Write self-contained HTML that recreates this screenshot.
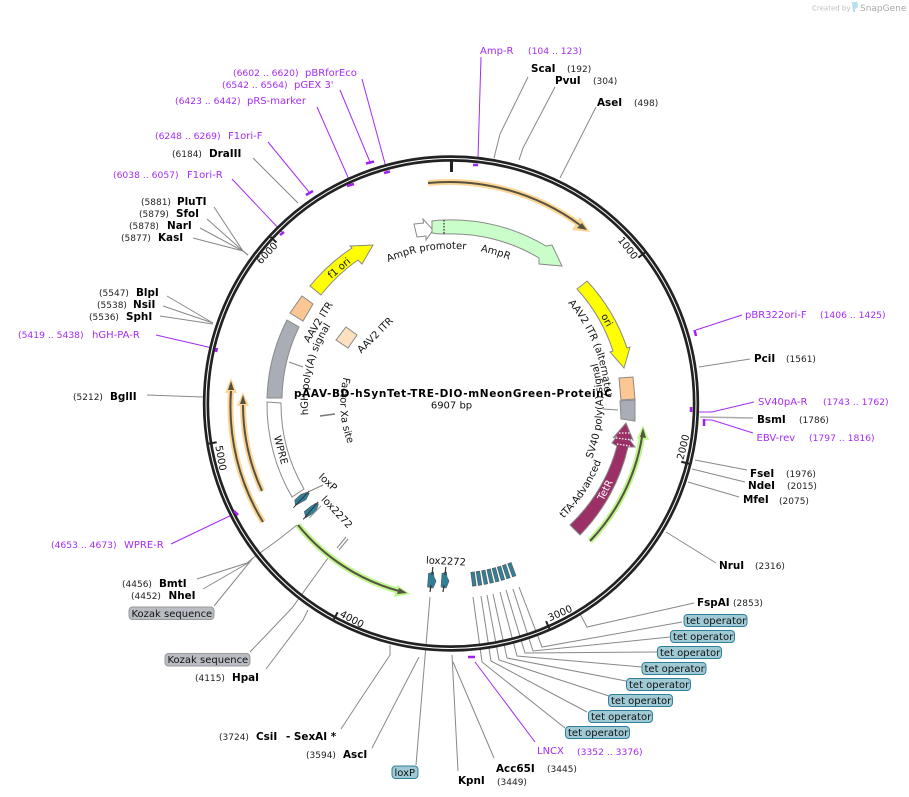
<!DOCTYPE html>
<html><head><meta charset="utf-8"><title>pAAV-BD-hSynTet-TRE-DIO-mNeonGreen-ProteinC</title>
<style>
html,body{margin:0;padding:0;background:#fff;width:909px;height:797px;overflow:hidden}
svg{display:block}
text{font-family:"DejaVu Sans",sans-serif;font-size:10px;fill:#111}
.b{font-weight:bold;font-size:10.4px;fill:#000}
.c{font-size:9px;fill:#222}
.p{fill:#a52cf2;font-size:10px}
.pc{fill:#a52cf2;font-size:9.2px}
.g{stroke:#888;stroke-width:1;fill:none}
.v{stroke:#a52cf2;stroke-width:1;fill:none}
.t{stroke:#a020f0;stroke-width:2.5;fill:none}
.m{text-anchor:middle}
.f{stroke:#8a8a8a;stroke-width:1}
.op{fill:#a0c9d6;stroke:#2f8199;stroke-width:1}
.ko{fill:#b9bcc3;stroke:#999;stroke-width:1}
.tl{fill:#31809a;stroke:#555;stroke-width:.6}
</style></head><body>
<svg width="909" height="797" viewBox="0 0 909 797" xmlns="http://www.w3.org/2000/svg">
<defs>
<path id="pAP" d="M387,262.6 A155 155 0 0 1 585,326"/>
<path id="pAR" d="M480,251.2 A155 155 0 0 1 585,326"/>
<path id="pAI" d="M568,303 A154 154 0 0 1 590,469"/>
<path id="pSV" d="M592,459 A152 152 0 0 0 540,280"/>
<path id="pTT" d="M563.6,518.5 A161 161 0 0 0 599,340.5"/>
<path id="pHG" d="M308.3,415 A143 143 0 0 1 391,273.5"/>
<path id="pFX" d="M343.5,377 A111 111 0 0 0 361,468"/>
</defs>

<!-- created by -->
<text x="812" y="10.5" style="font-size:7px;fill:#bdbdbd">Created by</text>
<path d="M852,2 h5 q2,3 0,6 l-2,1 v3 h-2 z" fill="#b7dff0"/>
<text x="860" y="11" style="font-size:9px;fill:#a8a8a8">SnapGene</text>

<!-- grey connectors -->
<g class="g">
<polyline points="528,77 500,134 494,158"/>
<polyline points="555,87 523,148 519,160"/>
<line x1="596" y1="107" x2="560" y2="178"/>
<polyline points="253,158 298,203"/>
<polyline points="214,207 243,251 248,255"/>
<polyline points="207,219 243,251 248,255"/>
<polyline points="200,228 243,251 248,255"/>
<polyline points="193,238 243,251 248,255"/>
<polyline points="167,296 213,323"/>
<polyline points="163,306 213,323"/>
<polyline points="160,316 213,324"/>
<line x1="147" y1="395" x2="203" y2="397"/>
<polyline points="197,579 247,563 253,558"/>
<polyline points="203,589 248,563 253,558"/>
<polyline points="214,606 253,558 278,540 297,525"/>
<polyline points="250,652 292,608 328,558"/>
<polyline points="266,669 303,620 308,610"/>
<polyline points="341,729 360,700 390,655 390,645"/>
<line x1="372" y1="748" x2="419" y2="657"/>
<line x1="416" y1="765" x2="430" y2="597"/>
<line x1="458" y1="771" x2="452" y2="655"/>
<line x1="494" y1="758" x2="453" y2="662"/>
<polyline points="565,728 482,662 473,597"/>
<polyline points="587,712 491,661 481,596"/>
<polyline points="609,696 499,660 487,595"/>
<polyline points="626,681 507,658 493,594"/>
<polyline points="642,667 517,656 500,592"/>
<polyline points="657,652 525,653 506,590"/>
<polyline points="670,637 533,651 513,589"/>
<polyline points="682,622 542,647 519,587"/>
<polyline points="694,603 587,627 578,610"/>
<line x1="666" y1="532" x2="716" y2="563"/>
<line x1="750" y1="359" x2="699" y2="367"/>
<line x1="753" y1="418" x2="700" y2="417" style="stroke-width:1.6;stroke:#aaa"/>
<line x1="747" y1="470" x2="695" y2="460"/>
<line x1="745" y1="482" x2="692" y2="469"/>
<line x1="739" y1="497" x2="688" y2="482"/>
<line x1="289" y1="362" x2="303" y2="367"/>
<line x1="603" y1="409" x2="618" y2="410"/>
<line x1="320" y1="416" x2="335" y2="414" style="stroke:#777;stroke-width:1.5"/>
<line x1="308" y1="492" x2="323" y2="485"/>
<line x1="337" y1="548" x2="346" y2="537"/>
<line x1="339" y1="550" x2="348" y2="539"/>
</g>

<!-- purple connectors -->
<g class="v">
<polyline points="481,57 478,157"/>
<line x1="362" y1="79" x2="387" y2="171"/>
<line x1="340" y1="90" x2="370" y2="162"/>
<line x1="317" y1="107" x2="351" y2="184"/>
<line x1="268" y1="142" x2="309" y2="192"/>
<line x1="232" y1="179" x2="282" y2="232"/>
<polyline points="156,335 208,347 217,350"/>
<line x1="171" y1="544" x2="236" y2="513"/>
<line x1="535" y1="742" x2="475" y2="662"/>
<line x1="742" y1="315" x2="696" y2="330"/>
<polyline points="754,402 712,412 695,412"/>
<polyline points="753,433 712,420 704,420"/>
</g>

<!-- ring -->
<circle cx="451" cy="403.5" r="245" fill="none" stroke="#222" stroke-width="6.4"/>
<circle cx="451" cy="403.5" r="245" fill="none" stroke="#fff" stroke-width="1"/>

<!-- purple ticks -->
<g class="t">
<line x1="473" y1="165" x2="478" y2="165"/>
<line x1="366" y1="163.5" x2="374" y2="161.5"/>
<line x1="384" y1="173" x2="390" y2="171.5"/>
<line x1="347" y1="186" x2="354" y2="184"/>
<line x1="306" y1="195" x2="313" y2="191"/>
<line x1="280" y1="235" x2="284" y2="232"/>
<line x1="217" y1="348" x2="216" y2="352"/>
<line x1="234" y1="511" x2="238" y2="515"/>
<line x1="468" y1="657" x2="475" y2="657"/>
<line x1="694.5" y1="330" x2="696" y2="336"/>
<line x1="691" y1="407" x2="691" y2="412"/>
<line x1="704" y1="419" x2="704" y2="426"/>
</g>

<!-- black ticks -->
<g stroke="#222" stroke-width="2" fill="none">
<line x1="451.5" y1="160" x2="451.5" y2="172" stroke-width="3"/>
<line x1="451" y1="166" x2="451" y2="158" transform="rotate(52.1 451 403.5)"/>
<line x1="451" y1="166" x2="451" y2="158" transform="rotate(104.2 451 403.5)"/>
<line x1="451" y1="166" x2="451" y2="158" transform="rotate(156.4 451 403.5)"/>
<line x1="451" y1="166" x2="451" y2="158" transform="rotate(208.5 451 403.5)"/>
<line x1="451" y1="166" x2="451" y2="158" transform="rotate(260.6 451 403.5)"/>
<line x1="451" y1="166" x2="451" y2="158" transform="rotate(312.7 451 403.5)"/>
</g>
<text class="m" transform="translate(628,248) rotate(52)" dy="3.5">1000</text>
<text class="m" transform="translate(683,447) rotate(-76)" dy="3.5">2000</text>
<text class="m" transform="translate(560,613) rotate(-24)" dy="3.5">3000</text>
<text class="m" transform="translate(352,619) rotate(28)" dy="3.5">4000</text>
<text class="m" transform="translate(221,458) rotate(80)" dy="3.5">5000</text>
<text class="m" transform="translate(267,253) rotate(-47)" dy="3.5">6000</text>

<!-- primers arcs -->
<g fill="none">
<path d="M428,183 A221 221 0 0 1 580,225" stroke="#fcd596" stroke-width="6"/>
<path d="M263,522 A221 221 0 0 1 231,391" stroke="#fcd596" stroke-width="6"/>
<path d="M262,491 A208 208 0 0 1 243,405" stroke="#fcd596" stroke-width="6"/>
<path d="M298,525 A195 195 0 0 0 399,591" stroke="#bff58e" stroke-width="6"/>
<path d="M590,541 A195 195 0 0 0 642,437" stroke="#bff58e" stroke-width="6"/>
</g>
<g fill="#fcd596">
<polygon points="590,232 580,217 572,230"/>
<polygon points="231,378 225,393 237,393"/>
<polygon points="243,392 237,406 249,406"/>
</g>
<g fill="#bff58e">
<polygon points="410,594 397,585 394,597"/>
<polygon points="643,425 637,439 649,440"/>
</g>
<g fill="none" stroke="#55523f" stroke-width="2">
<path d="M428,183 A221 221 0 0 1 580,225"/>
<path d="M263,522 A221 221 0 0 1 231,391"/>
<path d="M262,491 A208 208 0 0 1 243,405"/>
<path d="M298,525 A195 195 0 0 0 399,591"/>
<path d="M590,541 A195 195 0 0 0 642,437"/>
</g>
<g fill="#55523f">
<polygon points="587,230 582,223 577,228"/>
<polygon points="231,381 228,390 234,390"/>
<polygon points="243,395 240,404 246,404"/>
<polygon points="407,593 399,588 397,594"/>
<polygon points="643,428 640,437 646,438"/>
</g>

<!-- features -->
<g class="f">
<!-- AmpR promoter -->
<polygon points="414,224 423.5,223 423,219 433,230 426,240 426,236 417,237" fill="#fff"/>
<!-- AmpR -->
<path d="M432,221 Q438,220 444,220 A184 184 0 0 1 546,246 L552,245 L562,266 L539,264 L539,258 A170 170 0 0 0 444,234 Q438,234 432,233 Z" fill="#c9fdc9"/>
<line x1="444" y1="220" x2="444" y2="234" stroke="#000" stroke-dasharray="1.5,1.5" stroke-width="1"/>
<!-- f1 ori -->
<path d="M310,286 A184 184 0 0 1 352,248 L350,246 L373,245 L362,264 L358,260 A170 170 0 0 0 321,295 Z" fill="#ffff00"/>
<!-- ori -->
<path d="M587,281 A184 184 0 0 1 627,348 L630,347 L624,368 L610,352 L613,351 A170 170 0 0 0 577,289 Z" fill="#ffff00"/>
<!-- AAV2 ITR -->
<polygon points="302,296 313,304 303,321 290,313" fill="#fdc793"/>
<polygon points="346,327 357,335 348,348 336,340" fill="#fde0c0"/>
<polygon points="619,378 633,377 635,399 621,400" fill="#fdc793"/>
<polygon points="620,401 635,400 635,421 621,419" fill="#a9aeb6"/>
<!-- hGH -->
<path d="M287,320 L299,327 A170 170 0 0 0 282,398 L267,398 A184 184 0 0 1 287,320 Z" fill="#a9aeb6"/>
<!-- WPRE -->
<path d="M267,402 L281,403 A170 170 0 0 0 304,489 L292,497 A184 184 0 0 1 267,402 Z" fill="#fff"/>
<!-- TetR -->
<path d="M580,535 L570,525 A170 170 0 0 0 617,446 L612,443 L617,436 L613,438 L626,423 L633,440 L629,439 L635,447 L628,447 A184 184 0 0 1 580,535 Z" fill="#9b3067"/>
</g>
<g stroke="#fff" stroke-width="1.2" stroke-dasharray="1.5,1.5" fill="none">
<line x1="619" y1="433" x2="630" y2="433"/>
<line x1="616" y1="438" x2="632" y2="440"/>
<line x1="617" y1="444" x2="630" y2="446"/>
</g>

<!-- lox features -->
<g transform="translate(301,499) rotate(-29)">
<polygon class="tl" points="-8,3 -6,-2 2,-4 8,-3 10,-1 4,3"/>
<line x1="-11" y1="4" x2="11" y2="-3" stroke="#333" stroke-width="1" />
</g>
<g transform="translate(311,511) rotate(-32)">
<polygon class="tl" points="-8,3 -6,-3 2,-4 8,-4 10,-2 4,3"/>
<line x1="-11" y1="3" x2="11" y2="-4" stroke="#333" stroke-width="1"/>
<line x1="-5" y1="5" x2="11" y2="1" stroke="#999" stroke-width="1"/>
</g>
<g>
<polygon class="tl" points="427.5,587 428.5,573.5 433.5,572 434,577 436,581 434,586 433,588"/>
<line x1="432.8" y1="567" x2="432" y2="575" stroke="#333" stroke-width="1.2"/>
<line x1="431" y1="585" x2="430" y2="592" stroke="#333" stroke-width="1.2"/>
</g>
<g>
<polygon class="tl" points="441,587 442,573.5 446.5,572 447,577 449,581 447,586 446,588"/>
<line x1="445.8" y1="567" x2="445" y2="575" stroke="#333" stroke-width="1.2"/>
<line x1="444" y1="585" x2="443" y2="592" stroke="#333" stroke-width="1.2"/>
</g>
<!-- tet op boxes -->
<g class="tl">
<rect x="-1.8" y="573.5" width="3.6" height="14" transform="rotate(-7.3 451 403.5) translate(451,0)"/>
<rect x="-1.8" y="573.5" width="3.6" height="14" transform="rotate(-9.1 451 403.5) translate(451,0)"/>
<rect x="-1.8" y="573.5" width="3.6" height="14" transform="rotate(-10.96 451 403.5) translate(451,0)"/>
<rect x="-1.8" y="573.5" width="3.6" height="14" transform="rotate(-12.8 451 403.5) translate(451,0)"/>
<rect x="-1.8" y="573.5" width="3.6" height="14" transform="rotate(-14.6 451 403.5) translate(451,0)"/>
<rect x="-1.8" y="573.5" width="3.6" height="14" transform="rotate(-16.4 451 403.5) translate(451,0)"/>
<rect x="-1.8" y="573.5" width="3.6" height="14" transform="rotate(-18.2 451 403.5) translate(451,0)"/>
<rect x="-1.8" y="573.5" width="3.6" height="14" transform="rotate(-20.1 451 403.5) translate(451,0)"/>
</g>

<!-- feature labels -->
<text><textPath href="#pAP" startOffset="1.5">AmpR promoter</textPath></text>
<text><textPath href="#pAR" startOffset="0.5">AmpR</textPath></text>
<text><textPath href="#pAI">AAV2 ITR (alternate)</textPath></text>
<text><textPath href="#pSV">SV40 poly(A) signal</textPath></text>
<text><textPath href="#pTT">tTA-Advanced</textPath></text>
<text><textPath href="#pHG">hGH poly(A) signal</textPath></text>
<text><textPath href="#pFX">Factor Xa site</textPath></text>
<text class="m" transform="translate(339,268) rotate(-40)" dy="3.5">f1 ori</text>
<text class="m" transform="translate(607,320) rotate(62)" dy="3.5">ori</text>
<text class="m" transform="translate(605,490) rotate(-63)" dy="3.5" style="fill:#fff">TetR</text>
<text class="m" transform="translate(281,450) rotate(75)" dy="3.5">WPRE</text>
<text class="m" transform="translate(328,482) rotate(43)" dy="3.5">loxP</text>
<text class="m" transform="translate(337,512) rotate(47)" dy="3.5">lox2272</text>
<text class="m" transform="translate(446,561) rotate(3)" dy="3.5">lox2272</text>
<text class="m" transform="translate(318,322) rotate(-58)" dy="3.5">AAV2 ITR</text>
<text class="m" transform="translate(375,335) rotate(-45)" dy="3.5">AAV2 ITR</text>

<!-- title -->
<text class="m" x="453" y="397" style="font-weight:bold;font-size:10.5px;fill:#000" textLength="318" lengthAdjust="spacing">pAAV-BD-hSynTet-TRE-DIO-mNeonGreen-ProteinC</text>
<text class="m" x="451.5" y="408.5">6907 bp</text>

<!-- top labels -->
<text class="p" x="480" y="54">Amp-R</text><text class="pc" x="528" y="54">(104 .. 123)</text>
<text class="b" x="531" y="72">ScaI</text><text class="c" x="567" y="72">(192)</text>
<text class="b" x="555" y="84">PvuI</text><text class="c" x="593" y="84">(304)</text>
<text class="b" x="597" y="106">AseI</text><text class="c" x="634" y="106">(498)</text>
<text class="pc" x="233" y="76">(6602 .. 6620)</text><text class="p" x="305" y="76">pBRforEco</text>
<text class="pc" x="222" y="88">(6542 .. 6564)</text><text class="p" x="294" y="88">pGEX 3'</text>
<text class="pc" x="175" y="104">(6423 .. 6442)</text><text class="p" x="247" y="104">pRS-marker</text>
<text class="pc" x="155" y="139">(6248 .. 6269)</text><text class="p" x="228" y="139">F1ori-F</text>
<text class="c" x="172" y="157">(6184)</text><text class="b" x="209" y="157">DraIII</text>
<text class="pc" x="113" y="178">(6038 .. 6057)</text><text class="p" x="187" y="178">F1ori-R</text>
<text class="c" x="141" y="205">(5881)</text><text class="b" x="177" y="205">PluTI</text>
<text class="c" x="139" y="217">(5879)</text><text class="b" x="176" y="217">SfoI</text>
<text class="c" x="129" y="229">(5878)</text><text class="b" x="167" y="229">NarI</text>
<text class="c" x="121" y="241">(5877)</text><text class="b" x="158" y="241">KasI</text>
<text class="c" x="99" y="296">(5547)</text><text class="b" x="136" y="296">BlpI</text>
<text class="c" x="97" y="308">(5538)</text><text class="b" x="133" y="308">NsiI</text>
<text class="c" x="89" y="320">(5536)</text><text class="b" x="126" y="320">SphI</text>
<text class="pc" x="18" y="338">(5419 .. 5438)</text><text class="p" x="92" y="338">hGH-PA-R</text>
<text class="c" x="73" y="400">(5212)</text><text class="b" x="110" y="400">BglII</text>
<text class="pc" x="51" y="548">(4653 .. 4673)</text><text class="p" x="124" y="548">WPRE-R</text>
<text class="c" x="122" y="587">(4456)</text><text class="b" x="159" y="587">BmtI</text>
<text class="c" x="131" y="599">(4452)</text><text class="b" x="168.5" y="599">NheI</text>
<rect class="ko" x="129" y="607" width="85" height="12.5" rx="3.5"/><text x="131.5" y="617">Kozak sequence</text>
<rect class="ko" x="165" y="653.5" width="85" height="12.5" rx="3.5"/><text x="167.5" y="663">Kozak sequence</text>
<text class="c" x="195" y="681">(4115)</text><text class="b" x="232" y="681">HpaI</text>
<text class="c" x="219" y="740">(3724)</text><text class="b" x="256" y="740">CsiI</text><text class="b" x="286" y="740">- SexAI *</text>
<text class="c" x="306" y="758">(3594)</text><text class="b" x="343" y="758">AscI</text>
<rect class="op" x="392" y="766" width="26" height="12.5" rx="3.5"/><text x="394.5" y="776">loxP</text>
<text class="b" x="458" y="784">KpnI</text><text class="c" x="497" y="785">(3449)</text>
<text class="b" x="496" y="772">Acc65I</text><text class="c" x="547" y="772">(3445)</text>
<text class="p" x="537" y="754">LNCX</text><text class="pc" x="577" y="755">(3352 .. 3376)</text>

<!-- tet operator pills -->
<rect class="op" x="684" y="614.5" width="63" height="12" rx="3.5"/><text x="686" y="624">tet operator</text>
<rect class="op" x="670.5" y="630.5" width="64" height="12" rx="3.5"/><text x="673" y="640">tet operator</text>
<rect class="op" x="657.5" y="646.5" width="64" height="12" rx="3.5"/><text x="660" y="656">tet operator</text>
<rect class="op" x="642" y="662.5" width="64" height="12" rx="3.5"/><text x="644.5" y="672">tet operator</text>
<rect class="op" x="626.5" y="678.5" width="64" height="12" rx="3.5"/><text x="629" y="688">tet operator</text>
<rect class="op" x="608.5" y="694.5" width="64" height="12" rx="3.5"/><text x="611" y="704">tet operator</text>
<rect class="op" x="588.5" y="710.5" width="64" height="12" rx="3.5"/><text x="591" y="720">tet operator</text>
<rect class="op" x="565.5" y="726.5" width="64" height="12" rx="3.5"/><text x="568" y="736">tet operator</text>

<!-- right labels -->
<text class="b" x="697" y="606">FspAI</text><text class="c" x="733" y="606">(2853)</text>
<text class="b" x="719" y="569">NruI</text><text class="c" x="755" y="569">(2316)</text>
<text class="p" x="745" y="318">pBR322ori-F</text><text class="pc" x="820" y="318">(1406 .. 1425)</text>
<text class="b" x="754" y="362">PciI</text><text class="c" x="786" y="362">(1561)</text>
<text class="p" x="758" y="405">SV40pA-R</text><text class="pc" x="823" y="405">(1743 .. 1762)</text>
<text class="b" x="757" y="423">BsmI</text><text class="c" x="799" y="423">(1786)</text>
<text class="p" x="756.5" y="441">EBV-rev</text><text class="pc" x="809" y="441">(1797 .. 1816)</text>
<text class="b" x="750" y="477">FseI</text><text class="c" x="786" y="477">(1976)</text>
<text class="b" x="748" y="489">NdeI</text><text class="c" x="787" y="489">(2015)</text>
<text class="b" x="743" y="503">MfeI</text><text class="c" x="779" y="504">(2075)</text>
</svg>
</body></html>
